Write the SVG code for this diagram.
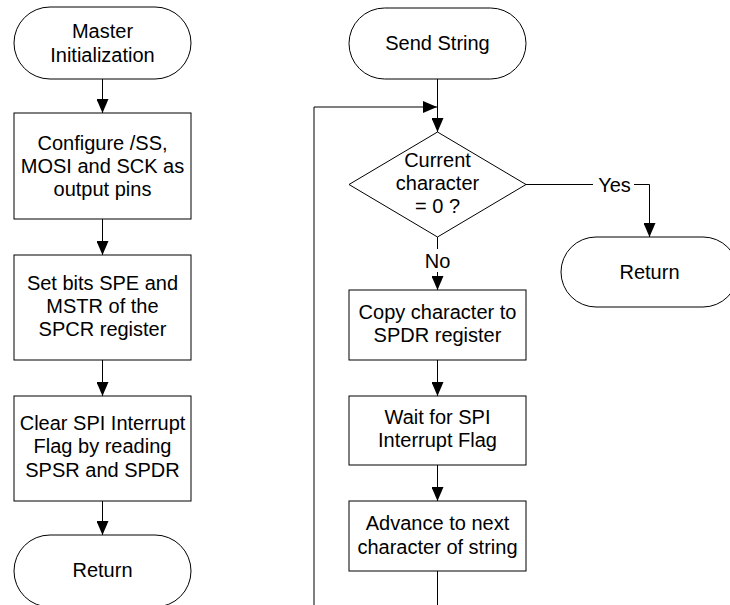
<svg xmlns="http://www.w3.org/2000/svg" width="730" height="605" viewBox="0 0 730 605">
<style>
.s{fill:#fff;stroke:#000;stroke-width:1}
.t{font-family:"Liberation Sans",Arial,sans-serif;font-size:20px;fill:#000;text-anchor:middle}
.c{fill:none;stroke:#000;stroke-width:1}
.g{fill:none;stroke:#000;stroke-width:1}
</style>
<defs>
<marker id="ah" markerUnits="userSpaceOnUse" markerWidth="14" markerHeight="12" refX="14" refY="6" orient="auto">
<path d="M0,0 L14,6 L0,12 z" fill="#000"/>
</marker>
</defs>
<rect width="730" height="605" fill="#fff"/>
<g id="connectors">
<line class="c" x1="102.5" y1="79" x2="102.5" y2="113" marker-end="url(#ah)"/>
<line class="c" x1="102.5" y1="219" x2="102.5" y2="255" marker-end="url(#ah)"/>
<line class="c" x1="102.5" y1="360" x2="102.5" y2="396" marker-end="url(#ah)"/>
<line class="c" x1="102.5" y1="501" x2="102.5" y2="535" marker-end="url(#ah)"/>
<line class="c" x1="437.5" y1="79" x2="437.5" y2="132" marker-end="url(#ah)"/>
<path class="g" d="M437.5,571 V625 H314 V107 H437" marker-end="url(#ah)"/>
<path class="c" d="M526,184.5 H593"/>
<text class="t" x="614.5" y="191.5">Yes</text>
<path class="c" d="M634,184.5 H649.5 V237" marker-end="url(#ah)"/>
<line class="c" x1="437.5" y1="237" x2="437.5" y2="249"/>
<text class="t" x="437.5" y="268">No</text>
<line class="c" x1="437.5" y1="272" x2="437.5" y2="290" marker-end="url(#ah)"/>
<line class="c" x1="437.5" y1="360" x2="437.5" y2="396" marker-end="url(#ah)"/>
<line class="c" x1="437.5" y1="465" x2="437.5" y2="501" marker-end="url(#ah)"/>
</g>
<g id="master-init">
<rect class="s" x="14" y="7" width="177" height="72" rx="36" ry="36"/>
<text class="t" x="102.5" y="37.5">Master</text>
<text class="t" x="102.5" y="61.5">Initialization</text>
</g>
<g id="configure">
<rect class="s" x="14" y="113" width="177" height="106"/>
<text class="t" x="102.5" y="150">Configure /SS,</text>
<text class="t" x="102.5" y="173">MOSI and SCK as</text>
<text class="t" x="102.5" y="196">output pins</text>
</g>
<g id="setbits">
<rect class="s" x="14" y="255" width="177" height="105"/>
<text class="t" x="102.5" y="289.5">Set bits SPE and</text>
<text class="t" x="102.5" y="313">MSTR of the</text>
<text class="t" x="102.5" y="336">SPCR register</text>
</g>
<g id="clearflag">
<rect class="s" x="14" y="396" width="177" height="105"/>
<text class="t" x="102.5" y="429.5">Clear SPI Interrupt</text>
<text class="t" x="102.5" y="453">Flag by reading</text>
<text class="t" x="102.5" y="477">SPSR and SPDR</text>
</g>
<g id="return-left">
<rect class="s" x="14" y="535" width="177" height="72" rx="36" ry="36"/>
<text class="t" x="102.5" y="577">Return</text>
</g>
<g id="send-string">
<rect class="s" x="349" y="8" width="177" height="71" rx="35.5" ry="35.5"/>
<text class="t" x="437.5" y="50">Send String</text>
</g>
<g id="decision">
<polygon class="s" points="349,184.5 437.5,132 526,184.5 437.5,237"/>
<text class="t" x="437.5" y="167">Current</text>
<text class="t" x="437.5" y="190">character</text>
<text class="t" x="437.5" y="213">= 0 ?</text>
</g>
<g id="return-right">
<rect class="s" x="561" y="237" width="177" height="70" rx="35" ry="35"/>
<text class="t" x="649.5" y="278.5">Return</text>
</g>
<g id="copy">
<rect class="s" x="349" y="290" width="177" height="70"/>
<text class="t" x="437.5" y="318.5">Copy character to</text>
<text class="t" x="437.5" y="342">SPDR register</text>
</g>
<g id="wait">
<rect class="s" x="349" y="396" width="177" height="69"/>
<text class="t" x="437.5" y="423.5">Wait for SPI</text>
<text class="t" x="437.5" y="447">Interrupt Flag</text>
</g>
<g id="advance">
<rect class="s" x="349" y="501" width="177" height="70"/>
<text class="t" x="437.5" y="530">Advance to next</text>
<text class="t" x="437.5" y="553.5">character of string</text>
</g>
</svg>
